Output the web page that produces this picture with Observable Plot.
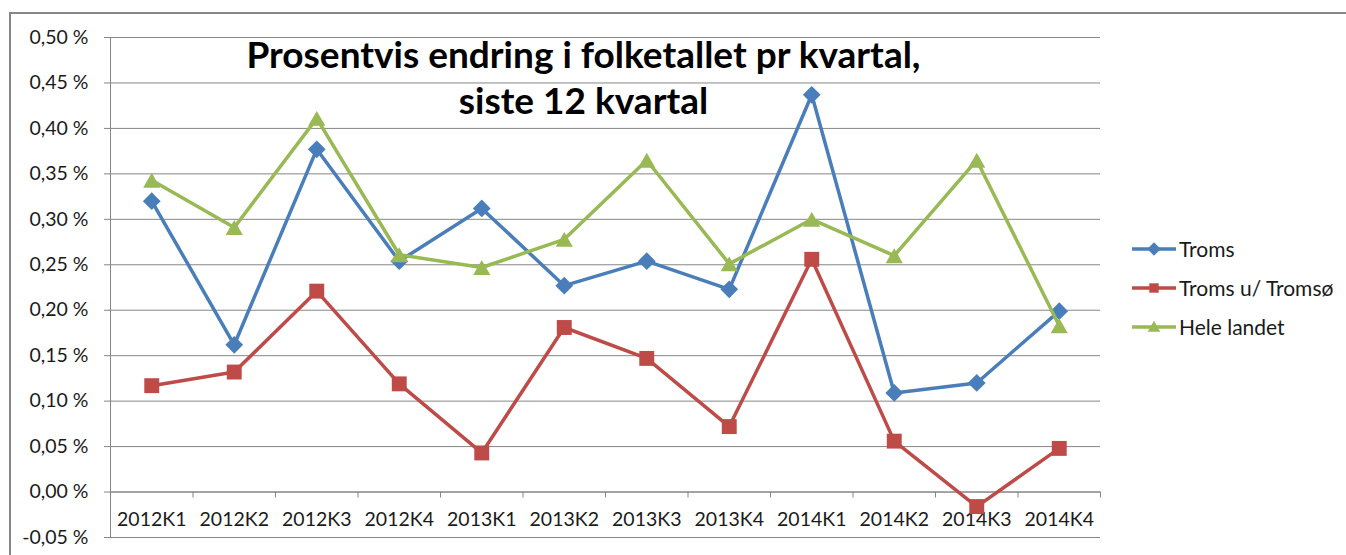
<!DOCTYPE html>
<html>
<head>
<meta charset="utf-8">
<script src="https://cdn.jsdelivr.net/npm/d3@7"></script>
<script src="https://cdn.jsdelivr.net/npm/@observablehq/plot@0.6"></script>
<style>
  html, body { margin: 0; padding: 0; background: #fff; }
  body { width: 1346px; height: 555px; position: relative; overflow: hidden; font-family: Lato, "Open Sans", sans-serif; }
  #chart { position: absolute; left: 0; top: 0; }
  .border-top { position: absolute; left: 9px; top: 12px; width: 1337px; height: 2px; background: #868686; }
  .border-left { position: absolute; left: 9px; top: 12px; width: 2px; height: 543px; background: #868686; }
  #legend { position: absolute; left: 1130px; top: 229px; }
  .item { display: flex; align-items: center; height: 39px; font-size: 21px; color: #1a1a1a; }
  .item svg { margin-right: 1px; }
</style>
</head>
<body>
<div class="border-top"></div>
<div class="border-left"></div>
<div id="chart"></div>
<div id="legend"></div>
<script>
const quarters = ["2012K1","2012K2","2012K3","2012K4","2013K1","2013K2","2013K3","2013K4","2014K1","2014K2","2014K3","2014K4"];
const troms     = [0.320, 0.162, 0.377, 0.254, 0.312, 0.227, 0.254, 0.223, 0.437, 0.109, 0.120, 0.199];
const tromsUten = [0.117, 0.132, 0.221, 0.119, 0.043, 0.181, 0.147, 0.072, 0.256, 0.056, -0.016, 0.048];
const heleLandet = [0.343, 0.291, 0.411, 0.261, 0.247, 0.278, 0.365, 0.251, 0.300, 0.260, 0.365, 0.183];
const seriesNames = ["Troms", "Troms u/ Tromsø", "Hele landet"];
const yTicks = [-0.05, 0, 0.05, 0.10, 0.15, 0.20, 0.25, 0.30, 0.35, 0.40, 0.45, 0.50];
const titleLines = ["Prosentvis endring i folketallet pr kvartal,", "siste 12 kvartal"];

const colors = ["#4A7EBB", "#BE4B48", "#98B954"];
const symbols = ["diamond2", "square2", "triangle2"];
const radii = [8, 9.5, 8.2];
const seriesValues = [troms, tromsUten, heleLandet];

const rows = [];
seriesNames.forEach((name, s) => {
  seriesValues[s].forEach((v, i) => rows.push({series: name, idx: i, q: quarters[i], value: v}));
});
const boundaries = d3.range(quarters.length + 1).map(i => i - 0.5);
const fmt = d => d.toFixed(2).replace(".", ",") + " %";

const marks = [
  Plot.gridY(yTicks, {stroke: "#868686", strokeOpacity: 1, strokeWidth: 1}),
  Plot.frame({anchor: "left", stroke: "#868686"}),
  Plot.axisY(yTicks, {tickFormat: fmt, tickSize: 6, tickPadding: 16, stroke: "#868686", fontSize: 19.5, fill: "#1a1a1a", label: null}),
  Plot.ruleY([0], {stroke: "#868686"}),
  Plot.ruleX(boundaries, {x: d => d, y1: 0, y2: 0, insetBottom: -6, stroke: "#868686"}),
  Plot.text(quarters, {x: (d, i) => i, y: 0, dy: 28, text: d => d, fontSize: 19.5, fill: "#1a1a1a"}),
  Plot.text([titleLines[0]], {frameAnchor: "top", lineAnchor: "bottom", dx: -22, dy: 30, text: d => d, fontSize: 37, fontWeight: 700, fill: "#000"}),
  Plot.text([titleLines[1]], {frameAnchor: "top", lineAnchor: "bottom", dx: -22, dy: 76, text: d => d, fontSize: 37, fontWeight: 700, fill: "#000"})
];
seriesNames.forEach((name, s) => {
  const data = rows.filter(r => r.series === name);
  marks.push(Plot.line(data, {x: "idx", y: "value", stroke: colors[s], strokeWidth: 3.5}));
  marks.push(Plot.dot(data, {x: "idx", y: "value", symbol: () => symbols[s], r: radii[s], fill: colors[s], stroke: "none", dy: s === 2 ? 2.5 : 0}));
});

const chart = Plot.plot({
  width: 1346,
  height: 555,
  marginLeft: 110,
  marginRight: 246,
  marginTop: 37,
  marginBottom: 18,
  style: {fontFamily: "Lato, 'Open Sans', sans-serif", background: "transparent", overflow: "visible"},
  x: {type: "linear", domain: [-0.5, quarters.length - 0.5], axis: null},
  y: {domain: [-0.05, 0.50], axis: null},
  symbol: {type: "identity"},
  marks
});
document.getElementById("chart").append(chart);

// legend
const legend = d3.select("#legend");
seriesNames.forEach((name, s) => {
  const item = legend.append("div").attr("class", "item");
  const svg = item.append("svg").attr("width", 48).attr("height", 20);
  svg.append("line").attr("x1", 2).attr("x2", 46).attr("y1", 10).attr("y2", 10).attr("stroke", colors[s]).attr("stroke-width", 3.5);
  const sym = {diamond2: d3.symbolDiamond2, square2: d3.symbolSquare2, triangle2: d3.symbolTriangle2}[symbols[s]];
  svg.append("path").attr("d", d3.symbol(sym, Math.PI * 6 * 6)()).attr("transform", `translate(24,${s === 2 ? 11 : 10})`).attr("fill", colors[s]);
  item.append("span").text(name);
});
</script>
</body>
</html>
